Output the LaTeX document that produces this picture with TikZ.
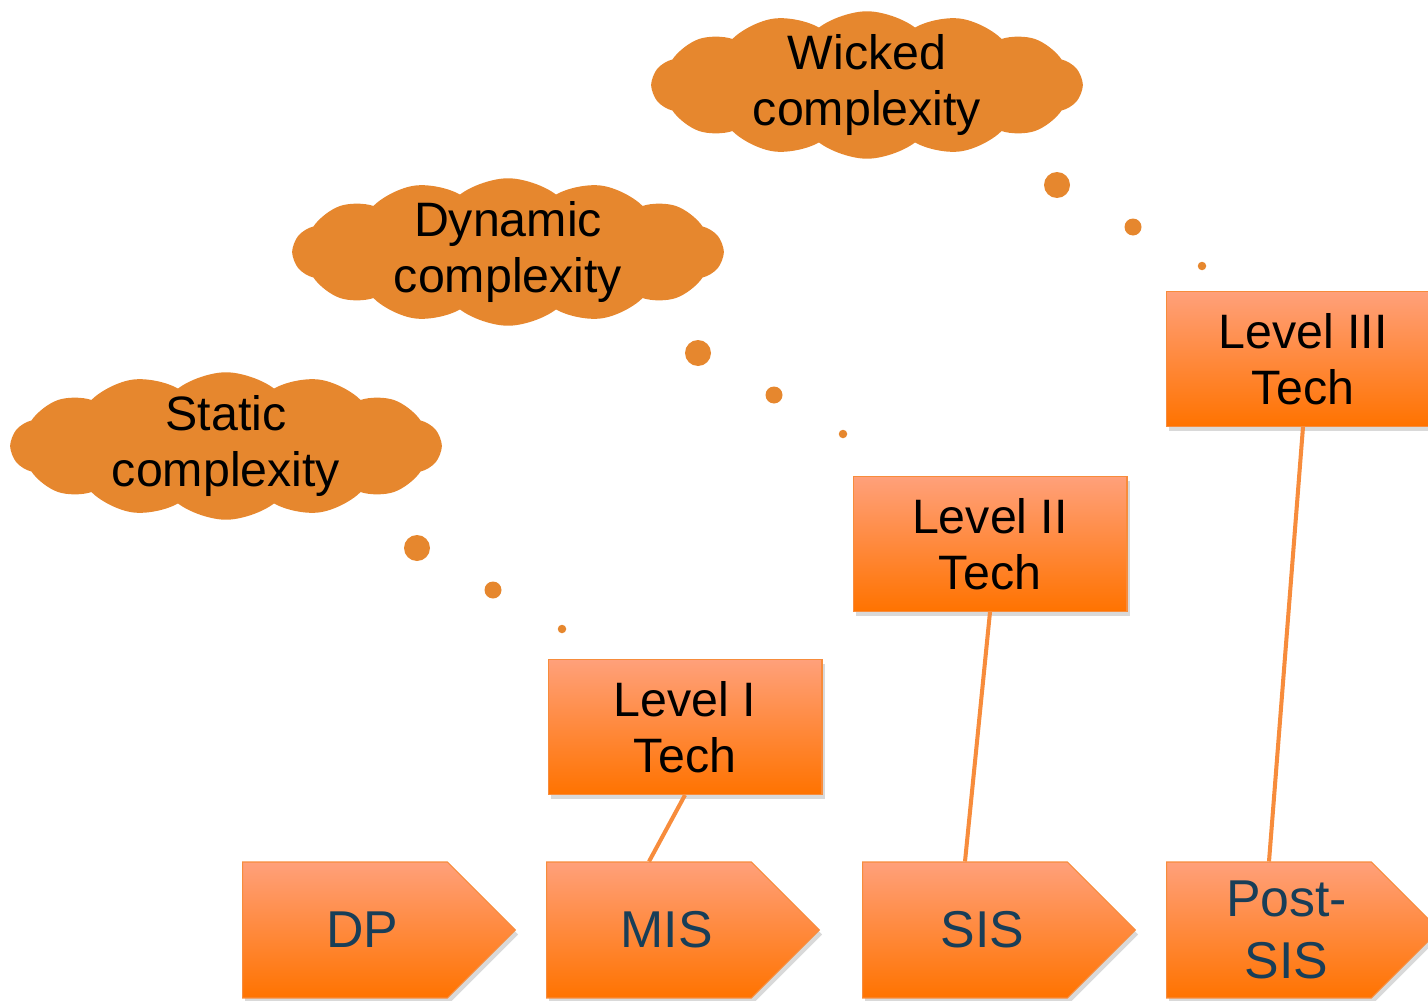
\documentclass[tikz,border=0pt]{standalone}
\usepackage{fontspec}
\setmainfont{Liberation Sans}
\usetikzlibrary{shapes,shadows,calc,positioning}

\definecolor{cloudorange}{RGB}{230,135,46}
\definecolor{boxtop}{RGB}{255,160,122}
\definecolor{boxbottom}{RGB}{255,115,0}
\definecolor{boxline}{RGB}{247,140,60}
\definecolor{stepblue}{RGB}{24,62,88}
\newcommand{\pushright}{\hspace*{.7cm}}

\begin{document}
\begin{tikzpicture}[x=0.02cm, y=-0.02cm,
   thought/.style={cloud, cloud puffs=14, cloud puff arc=75, cloud ignores aspect,
      fill=cloudorange, inner xsep=-2cm, inner ysep=-1cm,
      minimum width=8.6cm, minimum height=2.95cm,
      align=center, font=\fontsize{27.5}{32}\selectfont},
   levelbox/.style={rectangle, draw=boxline, line width=0.6pt,
      top color=boxtop, bottom color=boxbottom,
      drop shadow={shadow xshift=1.5pt, shadow yshift=-2.5pt, opacity=0.3},
      minimum width=5.48cm, minimum height=2.7cm,
      align=center, font=\fontsize{27.5}{32}\selectfont},
   stepbox/.style={signal, signal to=east, signal pointer angle=90,
      draw=boxline, line width=0.6pt,
      top color=boxtop, bottom color=boxbottom,
      drop shadow={shadow xshift=1.5pt, shadow yshift=-2.5pt, opacity=0.3},
      minimum width=5.46cm, minimum height=2.72cm, inner sep=0pt,
      anchor=west, align=center, text=stepblue,
      font=\fontsize{29.5}{35}\selectfont},
   bubble/.style={circle, fill=cloudorange, inner sep=0pt},
   link/.style={draw=boxline, line width=2.3pt}]

  \useasboundingbox (0,0) rectangle (1428,1001);

  % complexity clouds
  \node [thought] (static)  at (226,446) {Static\\complexity};
  \node [thought] (dynamic) at (508,252) {Dynamic\\complexity};
  \node [thought] (wicked)  at (867,85)  {Wicked\\complexity};

  % thought bubbles
  \foreach \name/\x/\y in {static/417/548, dynamic/698/353, wicked/1057/185} {
    \node [bubble, minimum size=0.52cm] (\name-a) at (\x,\y) {};
    \node [bubble, minimum size=0.34cm] (\name-b) at (\x+76,\y+42) {};
    \node [bubble, minimum size=0.17cm] (\name-c) at (\x+145,\y+81) {};
  }

  % technology levels
  \node [levelbox] (lev1) at (685,727)  {Level I\\Tech};
  \node [levelbox] (lev2) at (990,544)  {Level II\\Tech};
  \node [levelbox] (lev3) at (1303,359) {Level III\\Tech};

  % eras
  \node [stepbox] (dp)   at (242,930)  {\pushright DP};
  \node [stepbox] (mis)  at (546,930)  {\pushright MIS};
  \node [stepbox] (sis)  at (862,930)  {\pushright SIS};
  \node [stepbox] (post) at (1166,930) {\pushright Post-\\\pushright SIS};

  \draw [link] (lev1.south) -- (mis.north);
  \draw [link] (lev2.south) -- (sis.north);
  \draw [link] (lev3.south) -- (post.north);
\end{tikzpicture}
\end{document}
